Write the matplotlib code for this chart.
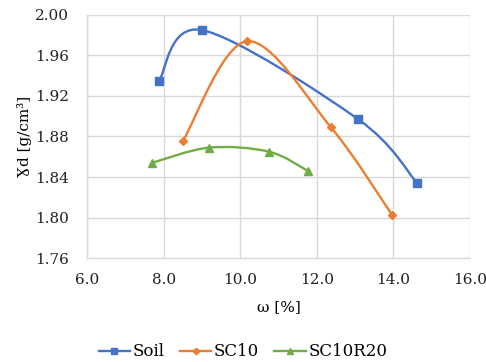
import matplotlib
matplotlib.use("Agg")
import matplotlib.pyplot as plt
from matplotlib.path import Path
from matplotlib.patches import PathPatch
from matplotlib.lines import Line2D

plt.rcParams['font.family'] = ['DejaVu Serif']

series_names = ["Soil", "SC10", "SC10R20"]
soil_x = [7.88, 9.00, 13.08, 14.62]
soil_y = [1.935, 1.985, 1.897, 1.834]
sc10_x = [8.51, 10.18, 12.37, 13.96]
sc10_y = [1.876, 1.974, 1.889, 1.803]
sc10r20_x = [7.70, 9.19, 10.75, 11.77]
sc10r20_y = [1.854, 1.869, 1.865, 1.846]
colors = ["#4472C4", "#ED7D31", "#70AD47"]
markers = ["s", "D", "^"]
msizes = [6.0, 4.2, 5.8]

x_ticks = [6.0, 8.0, 10.0, 12.0, 14.0, 16.0]
y_ticks = [1.76, 1.80, 1.84, 1.88, 1.92, 1.96, 2.00]


def smooth_path(xs, ys):
    pts = list(zip(xs, ys))
    n = len(pts)
    verts = [pts[0]]
    codes = [Path.MOVETO]
    for i in range(n - 1):
        p0 = pts[i - 1] if i > 0 else pts[i]
        p1 = pts[i]
        p2 = pts[i + 1]
        p3 = pts[i + 2] if i + 2 < n else pts[i + 1]
        c1 = (p1[0] + (p2[0] - p0[0]) / 6, p1[1] + (p2[1] - p0[1]) / 6)
        c2 = (p2[0] - (p3[0] - p1[0]) / 6, p2[1] - (p3[1] - p1[1]) / 6)
        verts += [c1, c2, p2]
        codes += [Path.CURVE4] * 3
    return Path(verts, codes)


fig = plt.figure(figsize=(4.86, 3.62), dpi=100)
ax = fig.add_axes([0.179, 0.287, 0.788, 0.672])

data = [(soil_x, soil_y), (sc10_x, sc10_y), (sc10r20_x, sc10r20_y)]
handles = []
for (xs, ys), c, m, ms, name in zip(data, colors, markers, msizes, series_names):
    patch = PathPatch(smooth_path(xs, ys), facecolor='none', edgecolor=c,
                      lw=1.7, transform=ax.transData, zorder=3)
    ax.add_patch(patch)
    ax.plot(xs, ys, ls='none', marker=m, ms=ms, color=c, zorder=4)
    handles.append(Line2D([], [], color=c, lw=1.7, marker=m, ms=ms * 0.8, label=name))

ax.set_xlim(6.0, 16.0)
ax.set_ylim(1.76, 2.00)
ax.set_xticks(x_ticks)
ax.set_yticks(y_ticks)
ax.set_xticklabels([f"{v:.1f}" for v in x_ticks])
ax.set_yticklabels([f"{v:.2f}" for v in y_ticks])
ax.grid(True, color="#d9d9d9", lw=1.0)
ax.set_axisbelow(True)
for s in ["top", "right"]:
    ax.spines[s].set_visible(False)
for s in ["left", "bottom"]:
    ax.spines[s].set_color("#d9d9d9")
    ax.spines[s].set_linewidth(1.0)
ax.tick_params(length=0, labelsize=11, colors="#222222", pad=11)
ax.tick_params(axis='y', pad=13)

ax.set_xlabel("ω [%]", fontsize=11, labelpad=9)
ax.set_ylabel("Ɣd [g/cm³]", fontsize=11, labelpad=2)

fig.legend(handles=handles, loc='center', bbox_to_anchor=(0.5, 1 - 352 / 362), ncol=3,
           frameon=False, fontsize=12, handlelength=1.9, columnspacing=0.9,
           handletextpad=0.15, borderpad=0)

fig.savefig("out.png", dpi=100)
